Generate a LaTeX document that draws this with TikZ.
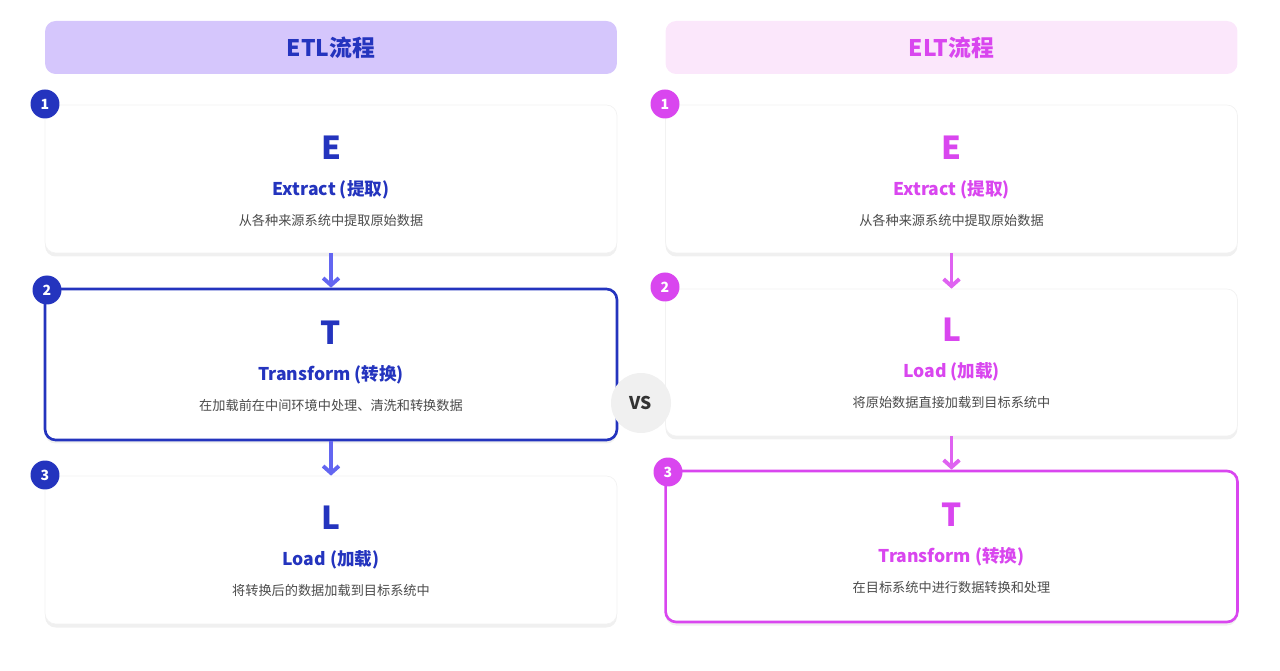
\documentclass[tikz,border=0pt]{standalone}
\usepackage{fontspec}
\setmainfont{Noto Sans CJK SC}
\usetikzlibrary{positioning, arrows.meta, shadows}
\definecolor{etlDark}{HTML}{2434BE}
\definecolor{etlHead}{HTML}{D5C6FC}
\definecolor{etlArrow}{HTML}{6366F1}
\definecolor{eltDark}{HTML}{D946EF}
\definecolor{eltHead}{HTML}{FBE7FB}
\definecolor{descGray}{HTML}{4B4B4B}
\tikzstyle{headBox}=[rounded corners=6pt, minimum width=11.44cm, minimum height=1.06cm, inner sep=0pt, font=\bfseries\fontsize{13}{15}\selectfont]
\tikzstyle{stepCard}=[draw=black!5, fill=white, rounded corners=6pt, minimum width=11.44cm, inner sep=0pt, drop shadow={opacity=0.12, shadow xshift=0pt, shadow yshift=-2pt}]
\tikzstyle{stepBadge}=[circle, minimum size=0.58cm, inner sep=0pt, text=white, font=\bfseries\fontsize{8}{9}\selectfont]
\tikzstyle{stepLetter}=[font=\bfseries\fontsize{18}{20}\selectfont]
\tikzstyle{stepTitle}=[font=\bfseries\fontsize{10}{12}\selectfont]
\tikzstyle{stepDesc}=[text=descGray, font=\fontsize{7.5}{9}\selectfont]
\tikzstyle{stepFlow}=[-{Straight Barb[length=4pt, width=9pt]}, line width=2.2pt]

\begin{document}
\begin{tikzpicture}[x=0.02cm, y=-0.02cm]
    \useasboundingbox (0,0) rectangle (1280,671);

    % headers
    \node[headBox, fill=etlHead, text=etlDark] (hl) at (331,47.5) {ETL流程};
    \node[headBox, fill=eltHead, text=eltDark] (hr) at (951.5,47.5) {ELT流程};

    % ETL cards
    \node[stepCard, minimum height=2.96cm] (l1) at (331,179) {};
    \node[stepCard, draw=etlDark, line width=1.5pt, minimum height=3.02cm] (l2) at (331,364.5) {};
    \node[stepCard, minimum height=2.96cm] (l3) at (331,550) {};

    % ELT cards
    \node[stepCard, minimum height=2.96cm] (r1) at (951.5,179) {};
    \node[stepCard, minimum height=2.94cm] (r2) at (951.5,362.5) {};
    \node[stepCard, draw=eltDark, line width=1.5pt, minimum height=3.02cm] (r3) at (951.5,546.5) {};

    % ETL texts
    \node[stepLetter, text=etlDark] (l1a) at (331,148) {E};
    \node[stepTitle, text=etlDark] (l1b) at (331,190) {Extract (提取)};
    \node[stepDesc] (l1c) at (331,220) {从各种来源系统中提取原始数据};
    \node[stepLetter, text=etlDark] (l2a) at (331,333) {T};
    \node[stepTitle, text=etlDark] (l2b) at (331,375) {Transform (转换)};
    \node[stepDesc] (l2c) at (331,405) {在加载前在中间环境中处理、清洗和转换数据};
    \node[stepLetter, text=etlDark] (l3a) at (331,518) {L};
    \node[stepTitle, text=etlDark] (l3b) at (331,560) {Load (加载)};
    \node[stepDesc] (l3c) at (331,590) {将转换后的数据加载到目标系统中};

    % ELT texts
    \node[stepLetter, text=eltDark] (r1a) at (951.5,148) {E};
    \node[stepTitle, text=eltDark] (r1b) at (951.5,190) {Extract (提取)};
    \node[stepDesc] (r1c) at (951.5,220) {从各种来源系统中提取原始数据};
    \node[stepLetter, text=eltDark] (r2a) at (951.5,330) {L};
    \node[stepTitle, text=eltDark] (r2b) at (951.5,372) {Load (加载)};
    \node[stepDesc] (r2c) at (951.5,402) {将原始数据直接加载到目标系统中};
    \node[stepLetter, text=eltDark] (r3a) at (951.5,515) {T};
    \node[stepTitle, text=eltDark] (r3b) at (951.5,557) {Transform (转换)};
    \node[stepDesc] (r3c) at (951.5,587) {在目标系统中进行数据转换和处理};

    % badges
    \node[stepBadge, fill=etlDark] (lb1) at (45,104) {1};
    \node[stepBadge, fill=etlDark] (lb2) at (47,290) {2};
    \node[stepBadge, fill=etlDark] (lb3) at (45,475) {3};
    \node[stepBadge, fill=eltDark] (rb1) at (665,104) {1};
    \node[stepBadge, fill=eltDark] (rb2) at (665,287) {2};
    \node[stepBadge, fill=eltDark] (rb3) at (668,472) {3};

    % flow arrows
    \draw[stepFlow, draw=etlArrow] (l1.south) -- (l2.north);
    \draw[stepFlow, draw=etlArrow] (l2.south) -- (l3.north);
    \draw[stepFlow, draw=eltDark!85] (r1.south) -- (r2.north);
    \draw[stepFlow, draw=eltDark!85] (r2.south) -- (r3.north);

    % vs
    \node[circle, fill=black!6, minimum size=1.2cm, inner sep=0pt, text=black!80, font=\bfseries\fontsize{10}{12}\selectfont] (vs) at (641,403) {VS};

\end{tikzpicture}
\end{document}
